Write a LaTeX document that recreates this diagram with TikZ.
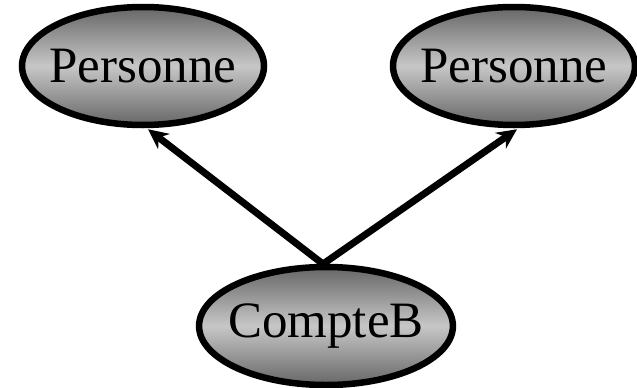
\documentclass[tikz,border=0pt]{standalone}
\usepackage{fontspec}
\setmainfont{Liberation Serif}
\usetikzlibrary{shapes.geometric,arrows.meta}
\begin{document}
\begin{tikzpicture}[x=1pt,y=-1pt,
  cls/.style={ellipse,draw=black,line width=6.5pt,minimum width=242pt,minimum height=118pt,inner xsep=-8pt,inner ysep=0pt,
    top color=black!60,bottom color=black!60,middle color=black!22,font=\fontsize{51}{51}\selectfont},
  rel/.style={line width=7pt,-{Stealth[length=20pt,width=19pt]}}]
\useasboundingbox (0,0) rectangle (637,388);
\node[cls] (p1) at (143,66) {Personne};
\node[cls] (p2) at (514,66) {Personne};
\coordinate (s) at (323,264);
\draw[rel] (s) -- ([xshift=5pt,yshift=-1pt]p1.south);
\draw[rel] (s) -- ([xshift=3pt,yshift=-1pt]p2.south);
\node[cls] (c) at (326,326) {CompteB};
\end{tikzpicture}
\end{document}
